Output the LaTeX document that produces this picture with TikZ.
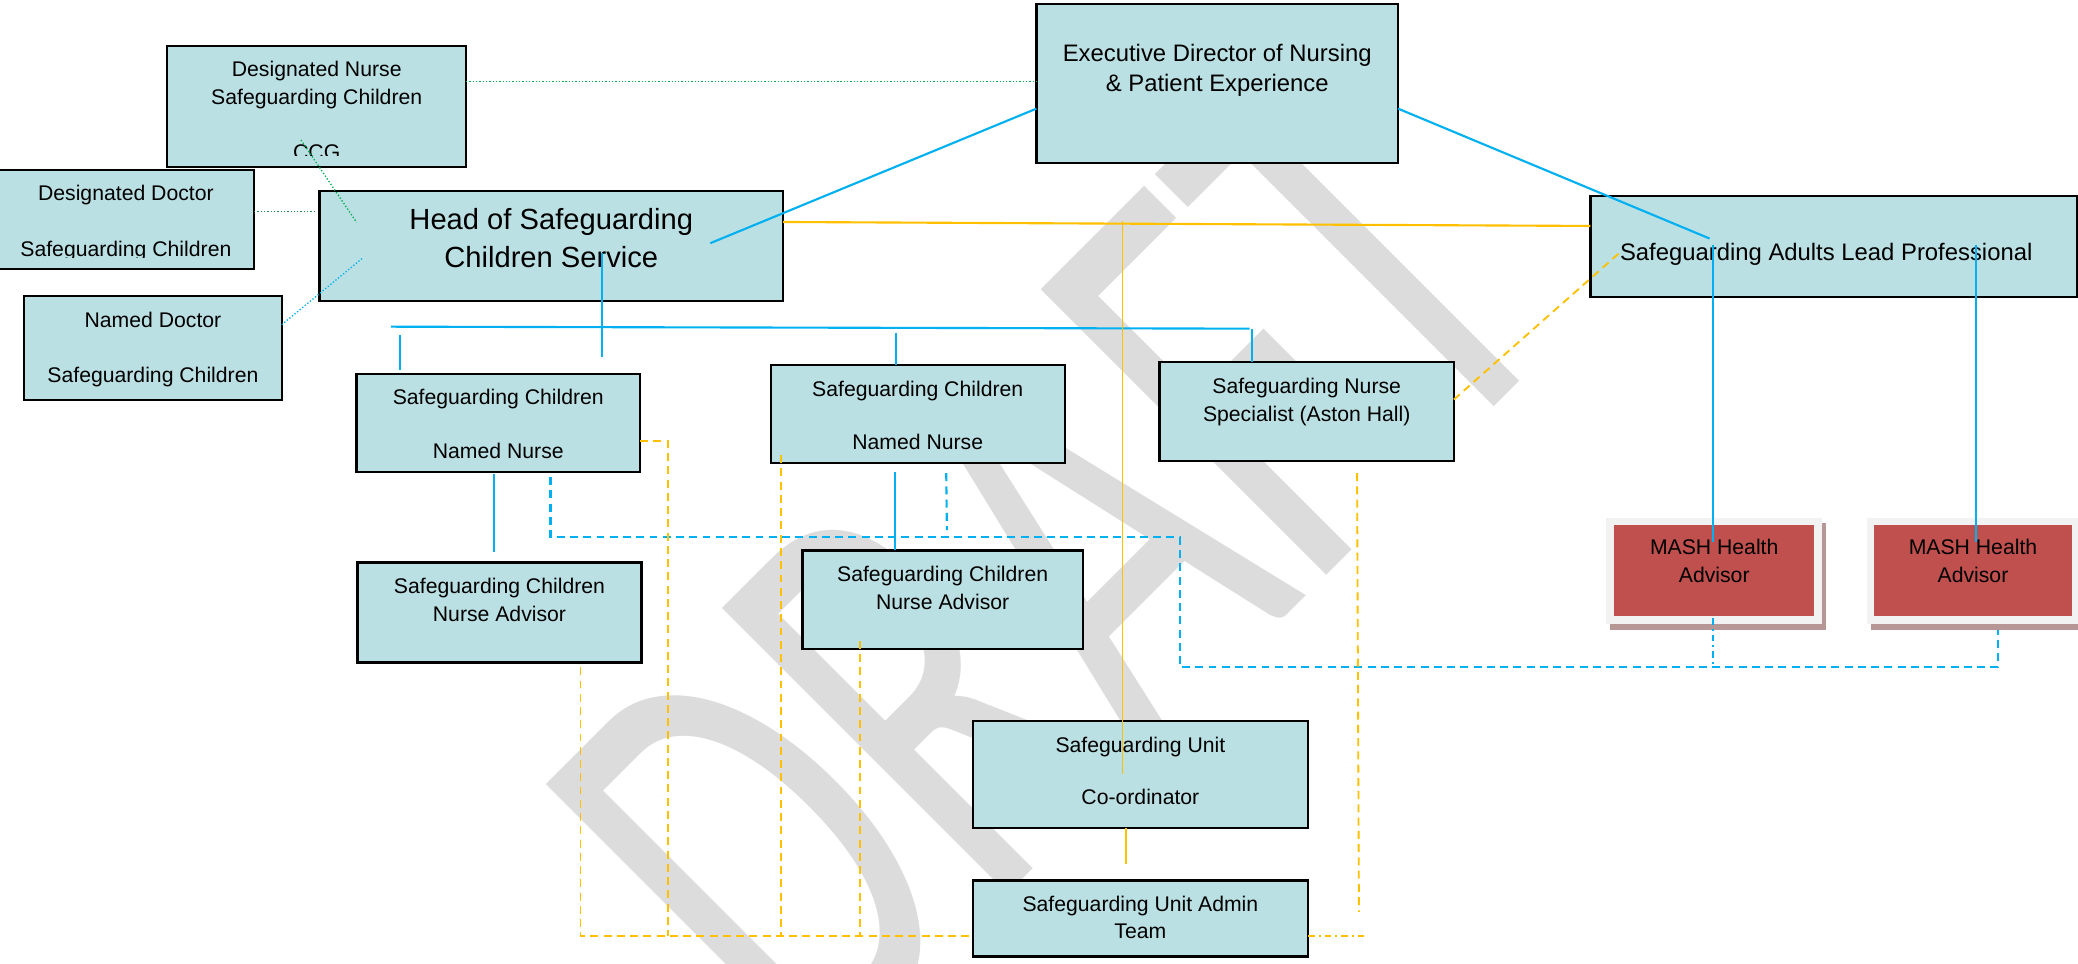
\documentclass[tikz,border=0pt]{standalone}
\usepackage{fontspec}
\setmainfont{Liberation Sans}
\newfontfamily\wmfont{Carlito}
\definecolor{boxfill}{RGB}{186,224,227}
\definecolor{lblue}{RGB}{0,176,240}
\definecolor{lorange}{RGB}{255,192,0}
\definecolor{lgreen}{RGB}{0,176,80}
\definecolor{dgreen}{RGB}{40,140,80}
\definecolor{mashred}{RGB}{192,80,77}
\definecolor{mashframe}{RGB}{242,242,242}
\definecolor{mashshadow}{RGB}{183,150,150}
\definecolor{wmgray}{RGB}{220,220,220}
\begin{document}
\begin{tikzpicture}[x=1pt,y=-1pt,
  box/.style={draw=black,line width=1.8pt,fill=boxfill,inner sep=0pt,rectangle},
  tx/.style={anchor=base,inner sep=0pt,font=\fontsize{16}{19}\selectfont},
  txm/.style={anchor=base,inner sep=0pt,font=\fontsize{18}{21}\selectfont},
  txl/.style={anchor=base,inner sep=0pt,font=\fontsize{22}{26}\selectfont},
  plain/.style={inner sep=0pt,rectangle},
  bline/.style={draw=lblue,line width=1.6pt},
  bdash/.style={draw=lblue,line width=1.6pt,dash pattern=on 6pt off 4pt},
  bdashdot/.style={draw=lblue,line width=1.6pt,dash pattern=on 5pt off 3pt on 1.5pt off 3pt},
  oline/.style={draw=lorange,line width=1.6pt},
  othin/.style={draw=lorange,line width=1.2pt},
  odash/.style={draw=lorange,line width=1.4pt,dash pattern=on 6pt off 4pt},
  odashdot/.style={draw=lorange,line width=1.4pt,dash pattern=on 5pt off 3pt on 1.5pt off 3pt},
  gdot/.style={draw=lgreen,line width=1pt,dash pattern=on 1pt off 1.5pt},
  gdotd/.style={draw=dgreen,line width=1pt,dash pattern=on 1pt off 1.5pt},
  bdot/.style={draw=lblue,line width=1pt,dash pattern=on 1pt off 1.5pt},
  wm/.style={transform shape,anchor=base west,inner sep=0pt,text=wmgray,font=\wmfont\fontsize{475}{475}\selectfont}
]
\useasboundingbox (0,0) rectangle (1568,727.4);
\fill[white] (0,0) rectangle (1568,727.4);

% watermark
\begin{scope}
  \clip (0,0) rectangle (1568,727.4);
  \begin{scope}[shift={(612.8,822.2)},rotate=45,xscale=0.64]
    \node[wm] (wmark) at (0,0) {DRAFT};
  \end{scope}
\end{scope}

% boxes
\node[box,minimum width=225.9pt,minimum height=91.3pt] (dn) at (238.75,80.15) {};
\node[box,minimum width=193.5pt,minimum height=74.5pt] (dd) at (94.75,165.55) {};
\node[box,minimum width=194.5pt,minimum height=78.3pt] (nd) at (115.35,262.65) {};
\node[box,minimum width=350pt,minimum height=83.1pt] (head) at (416,185.75) {};
\node[box,minimum width=273pt,minimum height=120pt] (exec) at (918.5,63) {};
\node[box,minimum width=367pt,minimum height=76pt] (adults) at (1383.5,186) {};
\node[box,minimum width=214pt,minimum height=74pt] (nn1) at (376,319) {};
\node[box,minimum width=221.8pt,minimum height=74.2pt] (nn2) at (692.7,312.4) {};
\node[box,minimum width=222pt,minimum height=75pt] (aston) at (986,310.5) {};
\node[box,minimum width=214.2pt,minimum height=75.5pt] (na1) at (376.9,462.05) {};
\node[box,minimum width=211.4pt,minimum height=74.5pt] (na2) at (711.3,452.55) {};
\node[box,minimum width=253pt,minimum height=81pt] (unit) at (860.5,584.5) {};
\node[box,minimum width=253pt,minimum height=57.3pt] (admin) at (860.5,693.15) {};

% MASH boxes
\node[plain,fill=mashshadow,minimum width=163pt,minimum height=80pt] (m1s) at (1296,435) {};
\node[plain,fill=mashframe,minimum width=163pt,minimum height=80pt] (m1f) at (1293.5,430.5) {};
\node[plain,fill=mashred,minimum width=151pt,minimum height=68.5pt] (m1) at (1293.5,430.25) {};
\node[plain,fill=mashshadow,minimum width=160pt,minimum height=80pt] (m2s) at (1491.5,435) {};
\node[plain,fill=mashframe,minimum width=160pt,minimum height=80pt] (m2f) at (1489,430.5) {};
\node[plain,fill=mashred,minimum width=149.5pt,minimum height=68.5pt] (m2) at (1488.75,430.25) {};

% texts
\node[tx] (dn1) at (239,57.9) {Designated Nurse};
\node[tx] (dn2) at (239,79.2) {Safeguarding Children};
\begin{scope}
  \clip (130,100) rectangle (348,117.7);
  \node[tx] (dn3) at (239,120.5) {CCG};
\end{scope}
\node[tx] (dd1) at (95,151.5) {Designated Doctor};
\begin{scope}
  \clip (0,170) rectangle (188,194.3);
  \node[tx] (dd2) at (95,193.3) {Safeguarding Children};
\end{scope}
\node[tx] (nd1) at (115.4,247) {Named Doctor};
\node[tx] (nd2) at (115.4,288.4) {Safeguarding Children};
\node[txl] (hd1) at (416,173) {Head of Safeguarding};
\node[txl] (hd2) at (416,202) {Children Service};
\node[txm] (ex1) at (918.5,46.6) {Executive Director of Nursing};
\node[txm] (ex2) at (918.5,69.3) {\& Patient Experience};
\node[txm] (ad1) at (1378,196.3) {Safeguarding Adults Lead Professional};
\node[tx] (nn1a) at (376,305.3) {Safeguarding Children};
\node[tx] (nn1b) at (376,345.8) {Named Nurse};
\node[tx] (nn2a) at (692.5,299) {Safeguarding Children};
\node[tx] (nn2b) at (692.5,339.5) {Named Nurse};
\node[tx] (as1) at (986,297) {Safeguarding Nurse};
\node[tx] (as2) at (986,317.8) {Specialist (Aston Hall)};
\node[tx] (na1a) at (376.9,447.8) {Safeguarding Children};
\node[tx] (na1b) at (376.9,469) {Nurse Advisor};
\node[tx] (na2a) at (711.3,439) {Safeguarding Children};
\node[tx] (na2b) at (711.3,459.8) {Nurse Advisor};
\node[tx] (un1) at (860.5,567.8) {Safeguarding Unit};
\node[tx] (un2) at (860.5,607.3) {Co-ordinator};
\node[tx] (at1) at (860.5,688) {Safeguarding Unit Admin};
\node[tx] (at2) at (860.5,707.8) {Team};
\node[tx] (m1a) at (1293.5,418.6) {MASH Health};
\node[tx] (m1b) at (1293.5,439.5) {Advisor};
\node[tx] (m2a) at (1488.75,418.6) {MASH Health};
\node[tx] (m2b) at (1488.75,439.5) {Advisor};

% connector end points
\coordinate (exL) at (782,82);
\coordinate (exR) at (1055,82);
\coordinate (hdIn) at (536,183.5);
\coordinate (adIn) at (1290,180);
\coordinate (hdV1) at (454.5,191);
\coordinate (hdV2) at (454.5,269.5);
\coordinate (busL) at (295,246.5);
\coordinate (busR) at (943,248);
\coordinate (d1a) at (302,252.5);
\coordinate (d1b) at (302,279);
\coordinate (d2a) at (676,251);
\coordinate (d2b) at (676,275.3);
\coordinate (d3a) at (945,248);
\coordinate (d3b) at (945,273);
\coordinate (v1a) at (373,357.8);
\coordinate (v1b) at (373,416.5);
\coordinate (v2a) at (675.4,356.5);
\coordinate (v2b) at (675.4,415.3);
\coordinate (a1a) at (1292.6,185);
\coordinate (a1b) at (1292.6,409);
\coordinate (a2a) at (1490.7,185);
\coordinate (a2b) at (1490.7,409);
\coordinate (bd1) at (415.4,360);
\coordinate (bd2) at (415.4,405.3);
\coordinate (bd3) at (890.3,405.3);
\coordinate (bd4) at (890.3,503.5);
\coordinate (bd5) at (1507.4,503.5);
\coordinate (bd6) at (1507.4,475.5);
\coordinate (bm1) at (714,357);
\coordinate (bm2) at (714.5,400);
\coordinate (bx1) at (1292.6,466.5);
\coordinate (bx2) at (1292.6,503.5);
\coordinate (o1a) at (591,167.5);
\coordinate (o1b) at (1200,170.5);
\coordinate (o2a) at (847,167);
\coordinate (o2b) at (847,584);
\coordinate (o3a) at (849.6,625);
\coordinate (o3b) at (849.6,652.2);
\coordinate (oa1) at (1097,301.5);
\coordinate (oa2) at (1224,189);
\coordinate (on1) at (483,332.7);
\coordinate (on2) at (503.8,332.7);
\coordinate (on3) at (503.8,706);
\coordinate (om1) at (589.6,343.5);
\coordinate (om2) at (589.6,706);
\coordinate (oq1) at (649,483.5);
\coordinate (oq2) at (649,706);
\coordinate (ol1) at (438,503.5);
\coordinate (ol2) at (438,706);
\coordinate (ol3) at (731,706);
\coordinate (or1) at (1024,357);
\coordinate (or2) at (1025.4,688);
\coordinate (or3) at (987,706);
\coordinate (or4) at (1031,706);
\coordinate (g1a) at (351.7,61.6);
\coordinate (g1b) at (782,61.6);
\coordinate (g2a) at (227.1,105.6);
\coordinate (g2b) at (269.1,167.8);
\coordinate (g3a) at (191.7,159.7);
\coordinate (g3b) at (239,159.7);
\coordinate (g4a) at (212.6,245);
\coordinate (g4b) at (274,194.4);

% blue solid
\draw[bline] (exL) -- (hdIn);
\draw[bline] (exR) -- (adIn);
\draw[bline] (hdV1) -- (hdV2);
\draw[bline] (busL) -- (busR);
\draw[bline] (d1a) -- (d1b);
\draw[bline] (d2a) -- (d2b);
\draw[bline] (d3a) -- (d3b);
\draw[bline] (v1a) -- (v1b);
\draw[bline] (v2a) -- (v2b);
\draw[bline] (a1a) -- (a1b);
\draw[bline] (a2a) -- (a2b);
% blue dashed
\draw[bdash] (bd1) -- (bd2) -- (bd3) -- (bd4) -- (bd5) -- (bd6);
\draw[bdash] (bm1) -- (bm2);
\draw[bdashdot] (bx1) -- (bx2);
% orange solid
\draw[oline] (o1a) -- (o1b);
\draw[othin] (o2a) -- (o2b);
\draw[othin] (o3a) -- (o3b);
% orange dashed
\draw[odash] (oa1) -- (oa2);
\draw[odash] (on1) -- (on2) -- (on3);
\draw[odash] (om1) -- (om2);
\draw[odash] (oq1) -- (oq2);
\draw[odash] (ol1) -- (ol2) -- (ol3);
\draw[odash] (or1) -- (or2);
\draw[odashdot] (or3) -- (or4);
% dotted
\draw[gdot] (g1a) -- (g1b);
\draw[gdot] (g2a) -- (g2b);
\draw[gdotd] (g3a) -- (g3b);
\draw[bdot] (g4a) -- (g4b);
\end{tikzpicture}
\end{document}
